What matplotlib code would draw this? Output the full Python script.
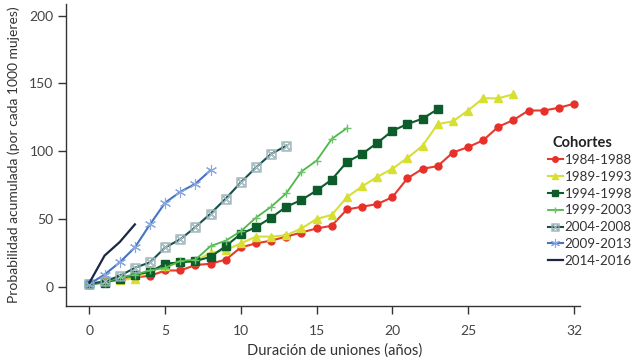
import matplotlib
matplotlib.use("Agg")
import matplotlib.pyplot as plt

plt.rcParams['font.family'] = ['Lato', 'DejaVu Sans']

x_1984 = list(range(0, 33))
y_1984 = [2, 4, 5, 7, 8, 12, 12, 16, 17, 20, 29, 32, 34, 37, 40, 43, 45, 57, 59, 61,
          66, 80, 87, 89, 99, 103, 108, 118, 123, 130, 130, 132, 135]
x_1989 = list(range(0, 29))
y_1989 = [2, 4, 5, 6, 12, 15, 18, 19, 25, 27, 32, 37, 37, 38, 43, 50, 53, 66, 74, 81,
          87, 95, 104, 120, 122, 130, 139, 139, 142]
x_1994 = list(range(0, 24))
y_1994 = [2, 3, 6, 9, 11, 17, 18, 19, 22, 30, 39, 44, 51, 59, 64, 71, 79, 92, 98, 106,
          115, 120, 124, 131]
x_1999 = list(range(0, 18))
y_1999 = [2, 3, 7, 9, 12, 14, 19, 20, 30, 34, 41, 51, 59, 69, 85, 93, 109, 117]
x_2004 = list(range(0, 14))
y_2004 = [2, 4, 8, 14, 18, 29, 35, 44, 54, 65, 77, 88, 98, 104]
x_2009 = list(range(0, 9))
y_2009 = [2, 9, 18, 29, 46, 62, 70, 76, 86]
x_2014 = list(range(0, 4))
y_2014 = [3, 23, 33, 46]

labels = ['1984-1988', '1989-1993', '1994-1998', '1999-2003', '2004-2008', '2009-2013', '2014-2016']
x_ticks = [0, 5, 10, 15, 20, 25, 32]
y_ticks = [0, 50, 100, 150, 200]

W, H = 637, 362
fig = plt.figure(figsize=(W / 100, H / 100), dpi=100)
ax = fig.add_axes([0.1036, 0.1547, 0.807, 0.834])

ax.plot(x_1984, y_1984, color='#e53a2c', lw=1.5, marker='o', ms=5, mfc='#e8302a', mec='#e8302a', label=labels[0])
ax.plot(x_1989, y_1989, color='#d5df3c', lw=1.5, marker='^', ms=6, mfc='#d7df30', mec='#d7df30', label=labels[1])
ax.plot(x_1994, y_1994, color='#0d5c2c', lw=1.5, marker='s', ms=5.5, mfc='#0d5c2c', mec='#0d5c2c', label=labels[2])
ax.plot(x_1999, y_1999, color='#4db84a', lw=1.3, marker='+', ms=6, mew=1.0, mec='#6cc468', label=labels[3])
ax.plot(x_2004, y_2004, color='#174f4f', lw=1.5, marker=r'$\boxtimes$', ms=7, mew=0.3,
        mec='#7f9aa0', mfc='#b8cdd2', label=labels[4])
ax.plot(x_2009, y_2009, color='#4674c4', lw=1.5, marker=(6, 2, 0), ms=8, mew=0.8, mec='#8aa8e0', label=labels[5])
ax.plot(x_2014, y_2014, color='#1c2747', lw=1.6, label=labels[6])

ax.set_xlim(-1.55, 32.4)
ax.set_ylim(-14.2, 208.5)
ax.set_xticks(x_ticks)
ax.set_yticks(y_ticks)
ax.spines['top'].set_visible(False)
ax.spines['right'].set_visible(False)
for s in ['left', 'bottom']:
    ax.spines[s].set_color('#333333')
    ax.spines[s].set_linewidth(1.0)
ax.tick_params(axis='both', direction='out', length=6, width=1.0, color='#333333',
               labelsize=10, labelcolor='#444444', pad=3)
ax.tick_params(axis='x', pad=8)

ax.set_xlabel('Duración de uniones (años)', fontsize=10.5, color='#333333', labelpad=3)
ax.xaxis.set_label_coords(0.523, -0.125)
ax.set_ylabel('Probabilidad acumulada (por cada 1000 mujeres)', fontsize=10, color='#333333', labelpad=7)

leg = fig.legend(loc='upper left', bbox_to_anchor=(548 / W, 1 - 154 / H), frameon=False,
                 fontsize=9.6, handlelength=1.1, handletextpad=0.15,
                 labelspacing=0.36, markerscale=0.8, borderaxespad=0, borderpad=0)
for t in leg.get_texts():
    t.set_color('#333333')
fig.text(582 / W, 1 - 143 / H, 'Cohortes', ha='center', va='center',
         fontsize=10.5, fontweight='bold', color='#222222')

fig.savefig('out.png', dpi=100, facecolor='white')
